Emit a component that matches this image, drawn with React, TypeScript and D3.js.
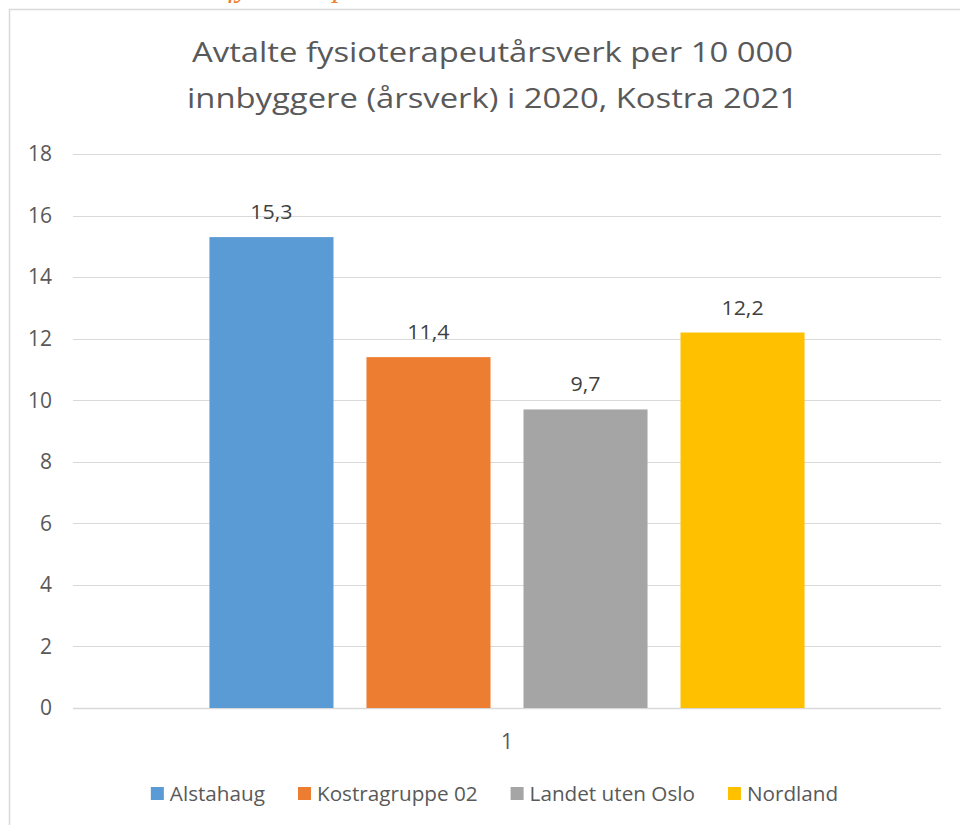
import React from "react";
import * as d3 from "d3";

const categories = ["1"];
const seriesNames = ["Alstahaug", "Kostragruppe 02", "Landet uten Oslo", "Nordland"];
const seriesValues = [15.3, 11.4, 9.7, 12.2];
const seriesColors = ["#5B9BD5", "#ED7D31", "#A5A5A5", "#FFC000"];
const yTicks = [0, 2, 4, 6, 8, 10, 12, 14, 16, 18];
const titleLines = ["Avtalte fysioterapeutårsverk per 10 000", "innbyggere (årsverk) i 2020, Kostra 2021"];

const W = 960;
const H = 825;
const FONTNAME = "Open Sans";
const FONT = "'Open Sans', sans-serif";
const plot = { left: 73, right: 941, top: 154, bottom: 708 };

function measure(text: string, size: number): number {
  if (typeof document === "undefined") return text.length * size * 0.5;
  const c = document.createElement("canvas");
  const ctx = c.getContext("2d");
  if (!ctx) return text.length * size * 0.5;
  ctx.font = `${size}px '${FONTNAME}'`;
  return ctx.measureText(text).width;
}

export default function App() {
  const y = d3.scaleLinear().domain([0, 18]).range([plot.bottom, plot.top]);
  const x0 = d3.scaleBand<string>().domain(categories).range([plot.left, plot.right]).paddingInner(0).paddingOuter(0.191);
  const x1 = d3.scaleBand<string>().domain(seriesNames).range([0, x0.bandwidth()]).paddingInner(0.21).paddingOuter(0.105);

  const fmt = (v: number) => v.toFixed(1).replace(".", ",");

  const legSize = 20.7;
  const sq = 13;
  const gapSqText = 6;
  const gapItems = 33;
  const widths = seriesNames.map((n) => measure(n, legSize));
  const itemW = widths.map((w) => sq + gapSqText + w);
  const total = d3.sum(itemW) + gapItems * (seriesNames.length - 1);
  let cx = 494.5 - total / 2;
  const legendX: number[] = [];
  itemW.forEach((w) => {
    legendX.push(cx);
    cx += w + gapItems;
  });

  const titleSize = 27;
  const titleStretch = 1.215;

  return (
    <svg width={W} height={H} style={{ position: "absolute", left: 0, top: 0, display: "block", background: "#fff" }}>
      <text x={228} y={-3} fontFamily="'Liberation Serif', serif" fontStyle="italic" fontSize={30} fill="#ED7D31">
        fysioterapi
      </text>
      <rect x={9.5} y={9.5} width={1000} height={1000} fill="#fff" stroke="#D9D9D9" strokeWidth={1.5} />
      {titleLines.map((t, i) => (
        <text
          key={i}
          transform={`translate(492.5,${62 + i * 46}) scale(${titleStretch},1)`}
          textAnchor="middle"
          fontFamily={FONT}
          fontSize={titleSize}
          fill="#595959"
        >
          {t}
        </text>
      ))}
      {yTicks.map((t) => (
        <g key={t}>
          <line x1={plot.left} x2={plot.right} y1={Math.round(y(t)) + 0.5} y2={Math.round(y(t)) + 0.5} stroke="#D9D9D9" strokeWidth={t === 0 ? 1.5 : 1} />
          <text x={52} y={y(t)} dy="0.35em" textAnchor="end" fontFamily={FONT} fontSize={21} fill="#595959">
            {t}
          </text>
        </g>
      ))}
      {categories.map((c) => (
        <g key={c}>
          {seriesNames.map((s, i) => {
            const bx = (x0(c) ?? 0) + (x1(s) ?? 0);
            return (
              <g key={s}>
                <rect x={bx} y={y(seriesValues[i])} width={x1.bandwidth()} height={y(0) - y(seriesValues[i])} fill={seriesColors[i]} />
                <text
                  transform={`translate(${bx + x1.bandwidth() / 2},${y(seriesValues[i]) - 18}) scale(1.07,1)`}
                  textAnchor="middle"
                  fontFamily={FONT}
                  fontSize={20}
                  fill="#404040"
                >
                  {fmt(seriesValues[i])}
                </text>
              </g>
            );
          })}
          <text x={(x0(c) ?? 0) + x0.bandwidth() / 2} y={749} textAnchor="middle" fontFamily={FONT} fontSize={21} fill="#595959">
            {c}
          </text>
        </g>
      ))}
      {seriesNames.map((s, i) => (
        <g key={s}>
          <rect x={legendX[i]} y={787} width={sq} height={sq} fill={seriesColors[i]} />
          <text x={legendX[i] + sq + gapSqText} y={801} fontFamily={FONT} fontSize={legSize} fill="#595959">
            {s}
          </text>
        </g>
      ))}
    </svg>
  );
}
